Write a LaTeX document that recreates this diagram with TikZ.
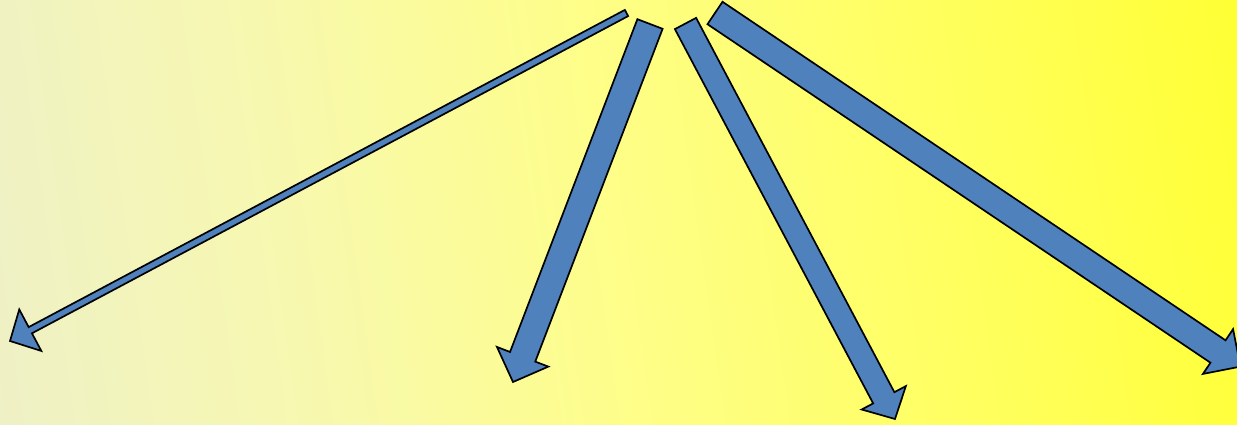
\documentclass[tikz,border=0pt]{standalone}
\usetikzlibrary{calc}
\definecolor{arrowblue}{HTML}{4F81BD}
\definecolor{bgA}{HTML}{ECEFCC}
\definecolor{bgB}{HTML}{F7F8B0}
\definecolor{bgC}{HTML}{FEFE88}
\definecolor{bgD}{HTML}{FFFF55}
\definecolor{bgE}{HTML}{FFFF20}
\pgfdeclarehorizontalshading{bgshade}{100bp}{%
  color(0bp)=(bgA); color(18bp)=(bgA); color(35bp)=(bgB); color(50bp)=(bgC); color(68bp)=(bgD); color(85bp)=(bgE); color(100bp)=(bgE)}
\tikzset{
  blockarrow/.style={fill=arrowblue, draw=black, line width=1.7pt, line join=miter}
}
% #1 tail, #2 tip, #3 half shaft width, #4 half head width, #5 head length
\newcommand{\myblockarrow}[5]{%
  \coordinate (T) at #1;
  \coordinate (P) at #2;
  \coordinate (H) at ($(P)!#5!(T)$);
  \draw[blockarrow]
    ($(T)!#3!90:(P)$) -- ($(H)!#3!-90:(T)$) -- ($(H)!#4!-90:(T)$) -- (P)
    -- ($(H)!#4!90:(T)$) -- ($(H)!#3!90:(T)$) -- ($(T)!#3!-90:(P)$) -- cycle;
}
\begin{document}
\begin{tikzpicture}[x=1pt,y=-1pt]
  \useasboundingbox (0,0) rectangle (1237,425);
  \begin{scope}
    \clip (0,0) rectangle (1237,425);
    \shade[shading=bgshade, shading angle=8] (0,0) rectangle (1237,425);
    \myblockarrow{(626.5,13)}{(10,341)}{3.5pt}{23.5pt}{23pt}
    \myblockarrow{(650,24)}{(513,382)}{13.5pt}{27.5pt}{27pt}
    \myblockarrow{(685.5,23.5)}{(895,419)}{12pt}{25pt}{24pt}
    \myblockarrow{(715,13)}{(1240.4,366.6)}{13.5pt}{27pt}{27pt}
  \end{scope}
\end{tikzpicture}
\end{document}
